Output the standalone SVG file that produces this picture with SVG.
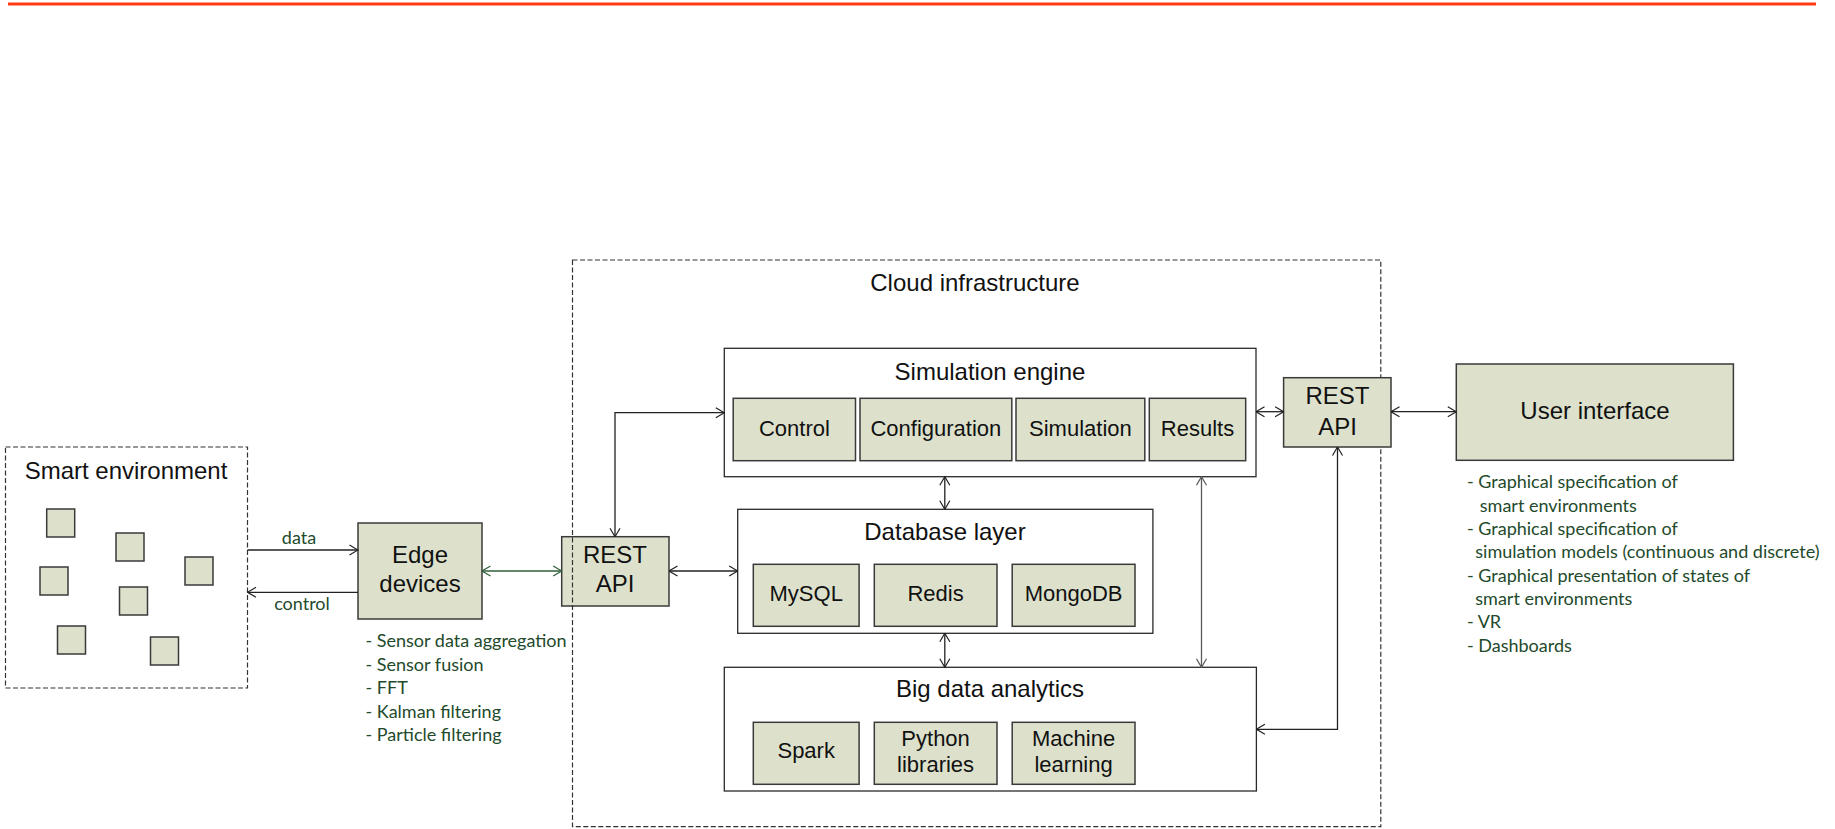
<svg xmlns="http://www.w3.org/2000/svg" width="1835" height="829" viewBox="0 0 1835 829">
  <style>
    .lbl { font-family: "Liberation Sans", Arial, sans-serif; font-size: 24px; fill: #111; text-anchor: middle; }
    .sub { font-family: "Liberation Sans", Arial, sans-serif; font-size: 22px; fill: #111; text-anchor: middle; }
    .note { font-family: Lato, "Open Sans", sans-serif; font-size: 18px; fill: #234a2b; }
    .mid { text-anchor: middle; }
    .box { fill: #dde1cc; stroke: #3a3a3a; stroke-width: 1.5; }
    .frame { fill: #fff; stroke: #2a2a2a; stroke-width: 1.3; }
    .dash { fill: none; stroke: #333; stroke-width: 1.2; stroke-dasharray: 5 2.5; }
    .conn { fill: none; stroke: #222; stroke-width: 1.3; }
    .green { stroke: #2f5f3a; }
    .grey { stroke: #5a5a5a; }
  </style>
  <defs>
    <marker id="arrK" viewBox="0 0 10 12" refX="9.5" refY="6" markerWidth="10" markerHeight="12" markerUnits="userSpaceOnUse" orient="auto-start-reverse">
      <path d="M1,1 L9.5,6 L1,11" fill="none" stroke="#222" stroke-width="1.2"/>
    </marker>
    <marker id="arrG" viewBox="0 0 10 12" refX="9.5" refY="6" markerWidth="10" markerHeight="12" markerUnits="userSpaceOnUse" orient="auto-start-reverse">
      <path d="M1,1 L9.5,6 L1,11" fill="none" stroke="#2f5f3a" stroke-width="1.2"/>
    </marker>
    <marker id="arrY" viewBox="0 0 10 12" refX="9.5" refY="6" markerWidth="10" markerHeight="12" markerUnits="userSpaceOnUse" orient="auto-start-reverse">
      <path d="M1,1 L9.5,6 L1,11" fill="none" stroke="#5a5a5a" stroke-width="1.2"/>
    </marker>
  </defs>

  <!-- header rule -->
  <rect x="8" y="2.5" width="1808" height="3" fill="#ff3c12"/>

  <!-- smart environment -->
  <g id="smart-environment">
    <rect class="dash" x="5.5" y="447" width="242" height="241"/>
    <text class="lbl" x="126" y="478.5">Smart environment</text>
    <rect class="box" x="46.7" y="509" width="28" height="28"/>
    <rect class="box" x="116" y="533" width="28" height="28"/>
    <rect class="box" x="40" y="567" width="28" height="28"/>
    <rect class="box" x="185" y="557" width="28" height="28"/>
    <rect class="box" x="119.5" y="587" width="28" height="28"/>
    <rect class="box" x="57.5" y="626" width="28" height="28"/>
    <rect class="box" x="150.5" y="637" width="28" height="28"/>
  </g>

  <!-- edge devices -->
  <g id="edge-devices">
    <rect class="box" x="358" y="523" width="124" height="96"/>
    <text class="lbl" x="420" y="563">Edge</text>
    <text class="lbl" x="420" y="592">devices</text>
    <text class="note" x="365.5" y="647.3">- Sensor data aggregation</text>
    <text class="note" x="365.5" y="670.5">- Sensor fusion</text>
    <text class="note" x="365.5" y="694">- FFT</text>
    <text class="note" x="365.5" y="717.5">- Kalman filtering</text>
    <text class="note" x="365.5" y="741">- Particle filtering</text>
  </g>

  <!-- left REST API (sits under the cloud boundary) -->
  <g id="rest-api-left">
    <rect class="box" x="561.7" y="536.7" width="107.3" height="69.3"/>
    <text class="lbl" x="615" y="563">REST</text>
    <text class="lbl" x="615" y="592">API</text>
  </g>

  <!-- cloud infrastructure -->
  <g id="cloud-infrastructure">
    <rect class="dash" x="572.5" y="260" width="808.3" height="566.7"/>
    <text class="lbl" x="975" y="291">Cloud infrastructure</text>
  </g>

  <!-- simulation engine -->
  <g id="simulation-engine">
    <rect class="frame" x="724.3" y="348.3" width="531.7" height="128.4"/>
    <text class="lbl" x="990" y="379.5">Simulation engine</text>
    <rect class="box" x="733.2" y="398.3" width="122.3" height="62.4"/>
    <text class="sub" x="794.4" y="436">Control</text>
    <rect class="box" x="860" y="398.3" width="151.8" height="62.4"/>
    <text class="sub" x="935.9" y="436">Configuration</text>
    <rect class="box" x="1016" y="398.3" width="128.8" height="62.4"/>
    <text class="sub" x="1080.4" y="436">Simulation</text>
    <rect class="box" x="1149.3" y="398.3" width="96.4" height="62.4"/>
    <text class="sub" x="1197.5" y="436">Results</text>
  </g>

  <!-- database layer -->
  <g id="database-layer">
    <rect class="frame" x="737.7" y="509.3" width="415.2" height="124"/>
    <text class="lbl" x="945" y="539.5">Database layer</text>
    <rect class="box" x="753.3" y="564.3" width="105.8" height="62"/>
    <text class="sub" x="806.2" y="600.5">MySQL</text>
    <rect class="box" x="874.3" y="564.3" width="122.7" height="62"/>
    <text class="sub" x="935.6" y="600.5">Redis</text>
    <rect class="box" x="1012.2" y="564.3" width="122.8" height="62"/>
    <text class="sub" x="1073.6" y="600.5">MongoDB</text>
  </g>

  <!-- big data analytics -->
  <g id="big-data-analytics">
    <rect class="frame" x="724.3" y="667.3" width="532.1" height="123.7"/>
    <text class="lbl" x="990" y="697">Big data analytics</text>
    <rect class="box" x="753.3" y="722.3" width="105.8" height="62"/>
    <text class="sub" x="806.2" y="758">Spark</text>
    <rect class="box" x="874.3" y="722.3" width="122.7" height="62"/>
    <text class="sub" x="935.6" y="745.5">Python</text>
    <text class="sub" x="935.6" y="771.5">libraries</text>
    <rect class="box" x="1012.2" y="722.3" width="122.8" height="62"/>
    <text class="sub" x="1073.6" y="745.5">Machine</text>
    <text class="sub" x="1073.6" y="771.5">learning</text>
  </g>

  <!-- right REST API -->
  <g id="rest-api-right">
    <rect class="box" x="1283.6" y="377.7" width="107.4" height="69.3"/>
    <text class="lbl" x="1337.5" y="404">REST</text>
    <text class="lbl" x="1337.5" y="435">API</text>
  </g>

  <!-- user interface -->
  <g id="user-interface">
    <rect class="box" x="1456.3" y="364" width="277.1" height="96.3"/>
    <text class="lbl" x="1595" y="419">User interface</text>
    <text class="note" x="1467" y="488.3">- Graphical specification of</text>
    <text class="note" x="1479.8" y="511.7">smart environments</text>
    <text class="note" x="1467" y="535">- Graphical specification of</text>
    <text class="note" x="1475.3" y="558.3">simulation models (continuous and discrete)</text>
    <text class="note" x="1467" y="581.7">- Graphical presentation of states of</text>
    <text class="note" x="1475.3" y="605">smart environments</text>
    <text class="note" x="1467" y="628.3">- VR</text>
    <text class="note" x="1467" y="651.7">- Dashboards</text>
  </g>

  <!-- connectors -->
  <g id="connectors">
    <path class="conn" d="M247.5,550 H358" marker-end="url(#arrK)"/>
    <text class="note mid" x="299" y="544">data</text>
    <path class="conn" d="M358,592.3 H247.5" marker-end="url(#arrK)"/>
    <text class="note mid" x="302" y="610">control</text>
    <path class="conn green" d="M482,571 H561.7" marker-start="url(#arrG)" marker-end="url(#arrG)"/>
    <path class="conn" d="M669,571 H737.7" marker-start="url(#arrK)" marker-end="url(#arrK)"/>
    <path class="conn" d="M615,536.7 V412.7 H724.3" marker-start="url(#arrK)" marker-end="url(#arrK)"/>
    <path class="conn" d="M944.8,476.7 V509.3" marker-start="url(#arrK)" marker-end="url(#arrK)"/>
    <path class="conn" d="M944.8,633.3 V667.3" marker-start="url(#arrK)" marker-end="url(#arrK)"/>
    <path class="conn grey" d="M1201.5,476.7 V667.3" marker-start="url(#arrY)" marker-end="url(#arrY)"/>
    <path class="conn" d="M1256,411.7 H1283.6" marker-start="url(#arrK)" marker-end="url(#arrK)"/>
    <path class="conn" d="M1391,411.7 H1456.3" marker-start="url(#arrK)" marker-end="url(#arrK)"/>
    <path class="conn" d="M1337.5,447 V729.3 H1256.4" marker-start="url(#arrK)" marker-end="url(#arrK)"/>
  </g>
</svg>
